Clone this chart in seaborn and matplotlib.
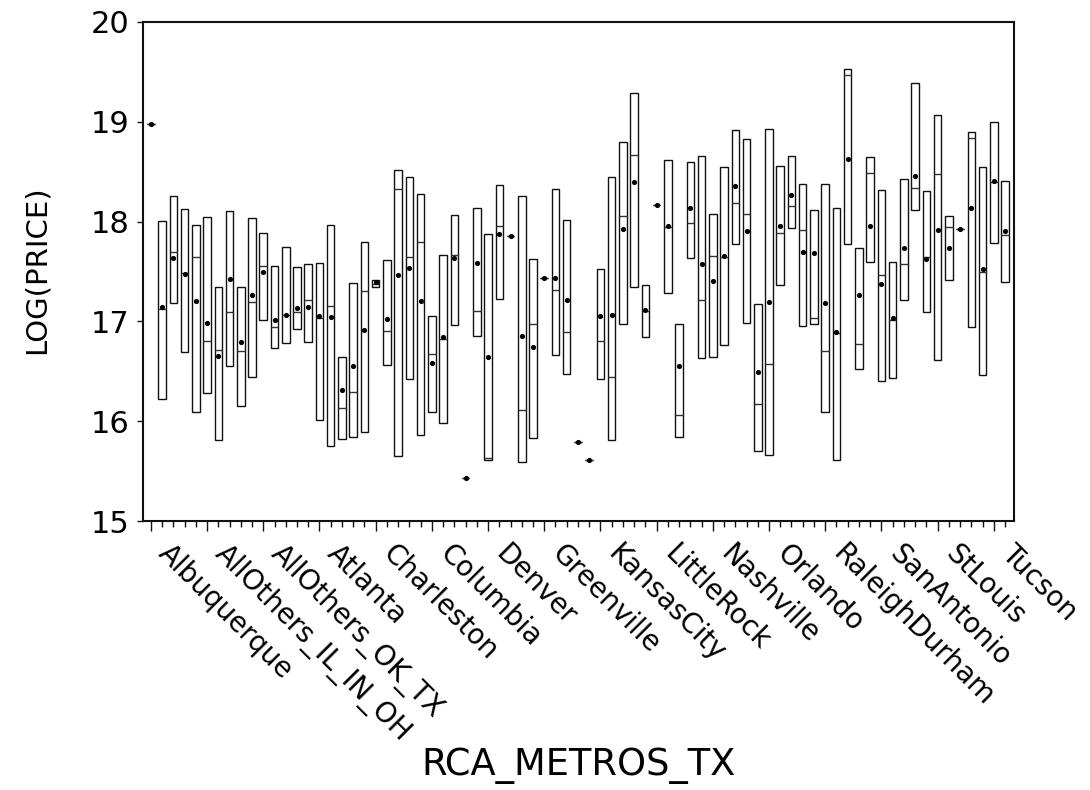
import numpy as np
import pandas as pd
import matplotlib
matplotlib.use("Agg")
import matplotlib.pyplot as plt
import matplotlib.transforms as mtransforms
import seaborn as sns
from matplotlib.ticker import MultipleLocator

# Valores (mínimo, máximo, mediana e média por metro)
low = [18.98, 16.22, 17.18, 16.69, 16.09, 16.28, 15.81, 16.55, 16.15, 16.44,
       17.01, 16.73, 16.78, 16.92, 16.79, 16.01, 15.75, 15.82, 15.84, 15.89,
       17.34, 16.56, 15.65, 16.42, 15.86, 16.09, 15.98, 16.96, 15.43, 16.85,
       15.61, 17.22, 17.86, 15.59, 15.83, 17.43, 16.66, 16.47, 15.79, 15.61,
       16.42, 15.81, 16.97, 17.34, 16.84, 18.17, 17.28, 15.84, 17.64, 16.63,
       16.64, 16.76, 17.78, 16.98, 15.70, 15.66, 17.36, 17.94, 16.95, 16.97,
       16.09, 15.61, 17.78, 16.52, 17.60, 16.40, 16.43, 17.21, 18.12, 17.09,
       16.61, 17.41, 17.93, 16.94, 16.46, 17.79, 17.39]
high = [18.98, 18.01, 18.26, 18.13, 17.97, 18.05, 17.34, 18.11, 17.34, 18.04,
        17.89, 17.55, 17.75, 17.54, 17.57, 17.59, 17.97, 16.64, 17.38, 17.80,
        17.41, 17.62, 18.52, 18.45, 18.28, 17.05, 17.67, 18.07, 15.43, 18.14,
        17.88, 18.37, 17.86, 18.26, 17.63, 17.43, 18.33, 18.02, 15.79, 15.61,
        17.52, 18.45, 18.80, 19.29, 17.36, 18.17, 18.62, 16.97, 18.60, 18.66,
        18.08, 18.55, 18.92, 18.83, 17.17, 18.93, 18.56, 18.66, 18.38, 18.12,
        18.38, 18.14, 19.53, 17.74, 18.65, 18.32, 17.60, 18.43, 19.39, 18.31,
        19.07, 18.06, 17.93, 18.90, 18.55, 19.00, 18.41]
median = [18.98, 17.12, 17.70, 17.48, 17.65, 16.80, 16.71, 17.09, 16.70, 17.19,
          17.55, 16.94, 17.06, 17.09, 17.21, 17.03, 17.15, 16.13, 16.29, 17.30,
          17.37, 16.90, 18.33, 17.65, 17.80, 16.67, 16.82, 17.67, 15.43, 17.10,
          15.63, 17.96, 17.86, 16.11, 16.97, 17.43, 17.31, 16.89, 15.79, 15.61,
          16.80, 16.44, 18.06, 18.67, 17.10, 18.17, 17.95, 16.06, 17.99, 17.21,
          17.66, 17.65, 18.19, 18.08, 16.17, 16.57, 17.89, 18.16, 17.92, 17.03,
          16.70, 16.88, 19.47, 16.77, 18.49, 17.46, 17.01, 17.57, 18.34, 17.65,
          18.48, 17.95, 17.93, 18.84, 17.49, 18.40, 17.87]
mean = [18.98, 17.14, 17.64, 17.47, 17.20, 16.98, 16.65, 17.42, 16.79, 17.26,
        17.49, 17.01, 17.06, 17.13, 17.14, 17.05, 17.04, 16.31, 16.55, 16.91,
        17.39, 17.02, 17.46, 17.53, 17.20, 16.58, 16.84, 17.64, 15.43, 17.59,
        16.64, 17.88, 17.86, 16.85, 16.74, 17.43, 17.43, 17.21, 15.79, 15.61,
        17.05, 17.06, 17.93, 18.40, 17.11, 18.17, 17.96, 16.55, 18.14, 17.57,
        17.40, 17.66, 18.36, 17.91, 16.49, 17.19, 17.96, 18.27, 17.70, 17.69,
        17.18, 16.89, 18.63, 17.26, 17.96, 17.37, 17.03, 17.74, 18.46, 17.63,
        17.92, 17.74, 17.93, 18.14, 17.52, 18.41, 17.91]

# Rótulos mostrados a cada 5 categorias
tick_labels = ["Albuquerque", "AllOthers_IL_IN_OH", "AllOthers_OK_TX", "Atlanta",
               "Charleston", "Columbia", "Denver", "Greenville", "KansasCity",
               "LittleRock", "Nashville", "Orlando", "RaleighDurham", "SanAntonio",
               "StLouis", "Tucson"]

df = pd.DataFrame({"low": low, "high": high, "median": median, "mean": mean})
df["pos"] = np.arange(len(df))

sns.set_style("ticks")
plt.rcParams["font.family"] = ["DejaVu Sans"]
plt.rcParams["text.color"] = "black"
plt.rcParams["xtick.color"] = "black"
plt.rcParams["ytick.color"] = "black"
plt.rcParams["axes.labelcolor"] = "black"

fig = plt.figure(figsize=(10.9, 7.9), dpi=100)
ax = fig.add_axes([0.1312, 0.3405, 0.7991, 0.6317])

edge = "#111111"
width = 0.67

# Caixas do mínimo ao máximo
ax.bar(df["pos"], df["high"] - df["low"], bottom=df["low"], width=width,
       color="white", edgecolor=edge, linewidth=1.0, zorder=2)
# Linha da mediana
ax.hlines(df["median"], df["pos"] - width / 2, df["pos"] + width / 2,
          color="#333333", linewidth=1.0, zorder=3)
# Ponto da média
sns.scatterplot(data=df, x="pos", y="mean", ax=ax, color="black", s=14,
                edgecolor="black", linewidth=0, zorder=4, legend=False)

ax.set_xlim(-0.7, len(df) - 0.2)
ax.set_ylim(15, 20)
ax.yaxis.set_major_locator(MultipleLocator(1))

ax.set_xticks(np.arange(0, len(tick_labels) * 5, 5))
ax.xaxis.set_minor_locator(MultipleLocator(1))
ax.tick_params(axis="x", which="major", length=7.5, width=1.0, color=edge, pad=0)
ax.tick_params(axis="x", which="minor", length=4.5, width=1.0, color=edge)
ax.tick_params(axis="y", length=4.5, width=1.0, color=edge, labelsize=22, pad=5)

ax.set_xticklabels(tick_labels, rotation=-45, ha="left", va="center",
                   rotation_mode="anchor", fontsize=20)
# desloca os rótulos inclinados para baixo e para a direita
shift = mtransforms.ScaledTranslation(12 / 100, -18 / 100, fig.dpi_scale_trans)
for lab in ax.get_xticklabels():
    lab.set_transform(lab.get_transform() + shift)

for side in ["left", "right", "top", "bottom"]:
    ax.spines[side].set_visible(True)
    ax.spines[side].set_linewidth(1.5)
    ax.spines[side].set_color(edge)

ax.set_xlabel("")
ax.set_ylabel("")
fig.text(37 / 1090, 1 - 270 / 790, "LOG(PRICE)", fontsize=21, rotation=90,
         ha="center", va="center")
fig.text(579 / 1090, 1 - 766 / 790, "RCA_METROS_TX", fontsize=26.5,
         ha="center", va="center")

fig.savefig("out.png", dpi=100)
